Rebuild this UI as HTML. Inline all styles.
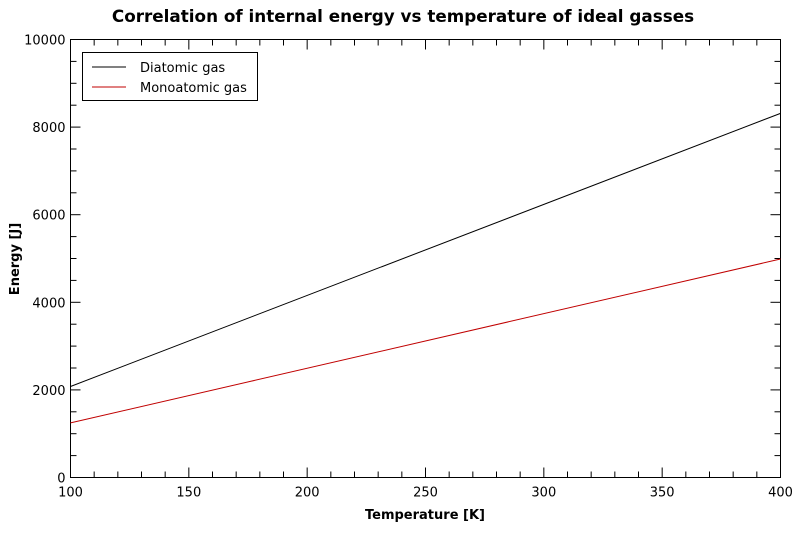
<!DOCTYPE html>
<html><head><meta charset="utf-8"><style>
body{margin:0;background:#fff;width:806px;height:533px;overflow:hidden}
text{font-family:"DejaVu Sans","Liberation Sans",sans-serif}
</style></head><body>
<svg id="chart" width="806" height="533" xmlns="http://www.w3.org/2000/svg">
<text x="403" y="22" text-anchor="middle" font-size="16.8" font-weight="bold">Correlation of internal energy vs temperature of ideal gasses</text>
<text x="425" y="519" text-anchor="middle" font-size="13" font-weight="bold">Temperature [K]</text>
<text transform="translate(19,259) rotate(-90)" text-anchor="middle" font-size="13" font-weight="bold">Energy [J]</text>
<g id="axes"></g>
<g id="series"></g>
<g>
<rect x="82.5" y="52.5" width="175" height="48" fill="#fff" stroke="#000"/>
<line x1="92" y1="67" x2="126" y2="67" stroke="#000"/>
<text x="140" y="72" font-size="13">Diatomic gas</text>
<line x1="92" y1="87" x2="126" y2="87" stroke="#c00000"/>
<text x="140" y="92" font-size="13">Monoatomic gas</text>
</g>
</svg>
<script>
const temps=[100,400];
const diatomic=[2078,8314];
const monoatomic=[1247,4988];
const xTicks=[100,150,200,250,300,350,400];
const yTicks=[0,2000,4000,6000,8000,10000];
const L=70.5,R=780.5,T=39.5,B=477.5;
const xs=v=>L+(v-100)/300*(R-L);
const ys=v=>B-v/10000*(B-T);
const NS='http://www.w3.org/2000/svg';
const ax=document.getElementById('axes');
function mk(tag,attrs,parent){const e=document.createElementNS(NS,tag);for(const k in attrs)e.setAttribute(k,attrs[k]);parent.appendChild(e);return e;}
const frame=mk('rect',{x:L,y:T,width:R-L,height:B-T,fill:'none',stroke:'#000'},ax);


for(let v=100;v<=400;v+=10){const x=xs(v);const len=(v%50===0)?10:6;
mk('line',{x1:x,y1:B,x2:x,y2:B-len,stroke:'#000'},ax);mk('line',{x1:x,y1:T,x2:x,y2:T+len,stroke:'#000'},ax);}
for(let v=0;v<=10000;v+=500){const y=ys(v);const len=(v%2000===0)?10:6;
mk('line',{x1:L,y1:y,x2:L+len,y2:y,stroke:'#000'},ax);mk('line',{x1:R,y1:y,x2:R-len,y2:y,stroke:'#000'},ax);}
xTicks.forEach(v=>{const t=mk('text',{x:xs(v),y:B+19,'text-anchor':'middle','font-size':13},ax);t.textContent=v;

});
yTicks.forEach(v=>{const t=mk('text',{x:L-5,y:ys(v)+5,'text-anchor':'end','font-size':13},ax);t.textContent=v;

});
const sg=document.getElementById('series');
function line(vals,color,name){const pts=temps.map((t,i)=>xs(t)+','+ys(vals[i])).join(' ');
const p=mk('polyline',{points:pts,fill:'none',stroke:color,'stroke-width':1},sg);

}
line(diatomic,'#000','diatomic-line');
line(monoatomic,'#c00000','monoatomic-line');
</script>
</body></html>
